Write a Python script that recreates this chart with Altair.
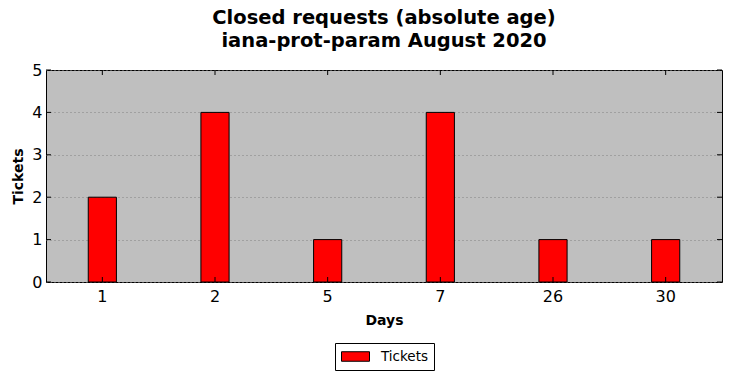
import altair as alt
import pandas as pd

days = ["1", "2", "5", "7", "26", "30"]
tickets = [2, 4, 1, 4, 1, 1]
y_ticks = [0, 1, 2, 3, 4, 5]

W, H = 676, 212
FONT = "DejaVu Sans"

bars_df = pd.DataFrame({"day": days, "tickets": tickets, "series": ["Tickets"] * len(days)})
ytick_df = pd.DataFrame({"v": y_ticks})

xscale = alt.Scale(domain=days, paddingInner=0.75, paddingOuter=0.375)
yscale = alt.Scale(domain=[0, 5], nice=False)

bars = alt.Chart(bars_df).mark_bar(stroke="black", strokeWidth=1).encode(
    x=alt.X("day:N", sort=days, scale=xscale,
            axis=alt.Axis(title="Days", labelAngle=0, tickSize=0, labelPadding=6,
                          titlePadding=9, grid=False, domain=False)),
    y=alt.Y("tickets:Q", scale=yscale,
            axis=alt.Axis(title="Tickets", values=y_ticks, tickSize=0, labelPadding=4,
                          titlePadding=6, grid=True, gridColor="#808080",
                          gridDash=[1, 3], gridWidth=1, domain=False)),
    color=alt.Color("series:N", scale=alt.Scale(range=["#ff0000"]),
                    legend=alt.Legend(title=None, orient="none", legendX=289, legendY=273,
                                      strokeColor="black", padding=6, cornerRadius=0,
                                      fillColor="white",
                                      symbolType="M-1,-0.68H3V0.68H-1Z", symbolSize=196,
                                      symbolStrokeColor="black", symbolStrokeWidth=1,
                                      labelFontSize=13.5, labelFont=FONT, labelColor="black",
                                      labelOffset=25)),
)

xt_bottom = alt.Chart(bars_df).mark_rule(color="black").encode(
    x=alt.X("day:N", sort=days, scale=xscale), y=alt.value(H - 5), y2=alt.value(H))
xt_top = alt.Chart(bars_df).mark_rule(color="black").encode(
    x=alt.X("day:N", sort=days, scale=xscale), y=alt.value(0), y2=alt.value(5))
yt_left = alt.Chart(ytick_df).mark_rule(color="black").encode(
    y=alt.Y("v:Q", scale=yscale), x=alt.value(0), x2=alt.value(5))
yt_right = alt.Chart(ytick_df).mark_rule(color="black").encode(
    y=alt.Y("v:Q", scale=yscale), x=alt.value(W - 5), x2=alt.value(W))

chart = alt.layer(bars, xt_bottom, xt_top, yt_left, yt_right).properties(
    width=W, height=H,
    title=alt.TitleParams(["Closed requests (absolute age)", "iana-prot-param August 2020"],
                          fontSize=19.5, font=FONT, fontWeight="bold", anchor="middle",
                          offset=11, lineHeight=23, color="black"),
    autosize=alt.AutoSizeParams(type="none"),
    padding={"left": 46, "top": 70, "right": 10, "bottom": 96},
    background="white",
).configure_view(
    fill="#bfbfbf", stroke="black", strokeWidth=1
).configure_axis(
    labelFont=FONT, labelFontSize=16, labelColor="black",
    titleFont=FONT, titleFontSize=14, titleFontWeight="bold", titleColor="black"
)

chart.save("out.html", embed_options={"renderer": "svg", "actions": False})
